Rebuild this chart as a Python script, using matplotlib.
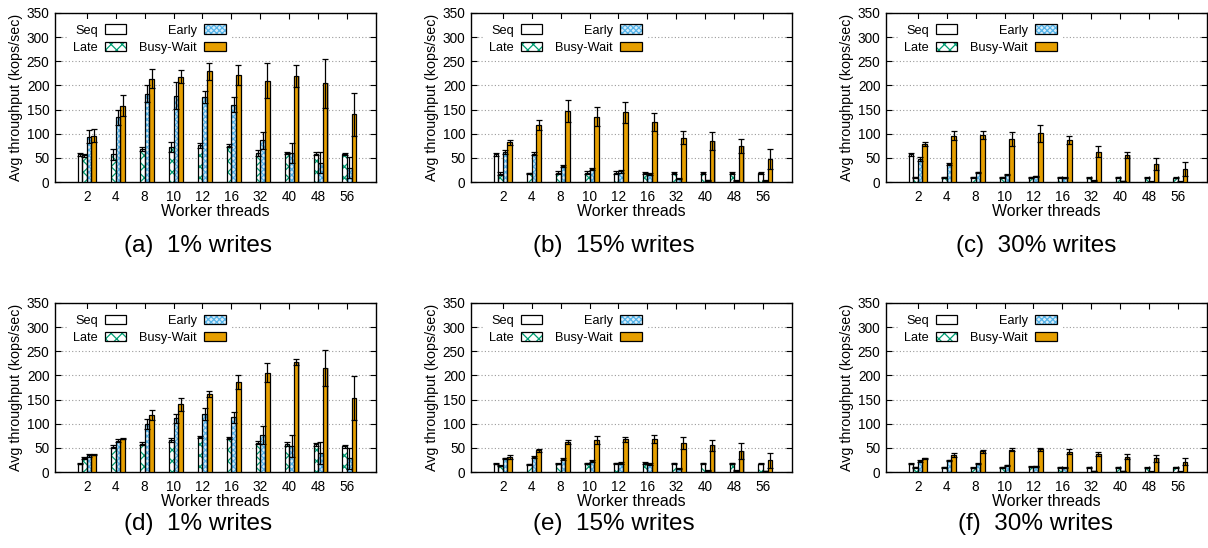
import numpy as np
import matplotlib
matplotlib.use("Agg")
import matplotlib.pyplot as plt
from matplotlib.patches import Patch
from matplotlib.legend_handler import HandlerTuple

plt.rcParams['font.family'] = ['Liberation Sans', 'DejaVu Sans']
plt.rcParams['hatch.linewidth'] = 0.9

threads = ["2", "4", "8", "10", "12", "16", "32", "40", "48", "56"]
series_names = ["Seq", "Late", "Early", "Busy-Wait"]
captions = ["(a)  1% writes", "(b)  15% writes", "(c)  30% writes",
            "(d)  1% writes", "(e)  15% writes", "(f)  30% writes"]
nan = np.nan

# ---- panel (a) ----
a_seq = [57, nan, nan, nan, nan, nan, nan, nan, nan, nan]
a_seq_err = [3, nan, nan, nan, nan, nan, nan, nan, nan, nan]
a_late = [55, 57, 69, 73, 76, 75, 60, 60, 59, 58]
a_late_err = [3, 12, 4, 10, 5, 3, 6, 3, 3, 3]
a_early = [94, 134, 183, 179, 176, 160, 86, 60, 40, 30]
a_early_err = [13, 16, 17, 28, 13, 16, 18, 21, 22, 22]
a_bw = [96, 158, 214, 218, 229, 222, 210, 220, 204, 140]
a_bw_err = [13, 22, 20, 14, 18, 21, 36, 23, 50, 44]

# ---- panel (b) ----
b_seq = [57, nan, nan, nan, nan, nan, nan, nan, nan, nan]
b_seq_err = [3, nan, nan, nan, nan, nan, nan, nan, nan, nan]
b_late = [17, 18, 19, 19, 19, 19, 18, 18, 18, 18]
b_late_err = [3, 1, 3, 3, 3, 2, 2, 2, 2, 2]
b_early = [62, 59, 34, 27, 22, 17, 7, 4, 3, 3]
b_early_err = [4, 4, 2, 3, 3, 2, 1, 1, 1, 1]
b_bw = [82, 118, 147, 135, 144, 124, 92, 85, 75, 48]
b_bw_err = [6, 10, 22, 20, 22, 18, 14, 19, 14, 21]

# ---- panel (c) ----
c_seq = [57, nan, nan, nan, nan, nan, nan, nan, nan, nan]
c_seq_err = [3, nan, nan, nan, nan, nan, nan, nan, nan, nan]
c_late = [10, 10, 10, 10, 10, 10, 9, 10, 9, 9]
c_late_err = [1, 1, 1, 1, 1, 1, 1, 1, 1, 1]
c_early = [48, 37, 20, 15, 12, 9, 3, 2, 1, 1]
c_early_err = [4, 2, 1, 1, 1, 1, 1, 0.5, 0.5, 0.5]
c_bw = [78, 96, 98, 89, 101, 87, 63, 56, 37, 27]
c_bw_err = [4, 10, 8, 14, 18, 8, 11, 6, 12, 14]

# ---- panel (d) ----
d_seq = [17, nan, nan, nan, nan, nan, nan, nan, nan, nan]
d_seq_err = [1, nan, nan, nan, nan, nan, nan, nan, nan, nan]
d_late = [29, 52, 59, 66, 72, 71, 61, 58, 57, 53]
d_late_err = [2, 3, 4, 4, 2, 2, 3, 4, 4, 3]
d_early = [35, 65, 99, 111, 120, 113, 77, 54, 39, 28]
d_early_err = [3, 3, 10, 9, 12, 12, 18, 23, 23, 22]
d_bw = [36, 69, 118, 140, 162, 186, 206, 228, 215, 153]
d_bw_err = [1, 1, 10, 13, 6, 15, 19, 6, 37, 45]

# ---- panel (e) ----
e_seq = [17, nan, nan, nan, nan, nan, nan, nan, nan, nan]
e_seq_err = [1, nan, nan, nan, nan, nan, nan, nan, nan, nan]
e_late = [13, 16, 17, 18, 18, 18, 18, 18, 18, 17]
e_late_err = [1, 1, 1, 1, 1, 2, 1, 1, 1, 1]
e_early = [28, 32, 27, 22, 19, 16, 7, 3, 3, 2]
e_early_err = [2, 2, 2, 2, 2, 2, 1, 0.5, 0.5, 0.5]
e_bw = [31, 45, 62, 66, 68, 68, 60, 55, 43, 24]
e_bw_err = [4, 3, 4, 8, 5, 8, 12, 12, 17, 16]

# ---- panel (f) ----
f_seq = [17, nan, nan, nan, nan, nan, nan, nan, nan, nan]
f_seq_err = [1, nan, nan, nan, nan, nan, nan, nan, nan, nan]
f_late = [10, 10, 9, 10, 11, 10, 10, 10, 9, 10]
f_late_err = [1, 1, 1, 1, 1, 1, 1, 1, 1, 1]
f_early = [22, 24, 17, 14, 12, 9, 2, 2, 1, 1]
f_early_err = [2, 1, 1, 1, 1, 1, 0.5, 0.5, 0.5, 0.5]
f_bw = [28, 36, 43, 46, 47, 42, 37, 32, 28, 21]
f_bw_err = [2, 4, 3, 3, 3, 5, 4, 5, 8, 7]

panels = [
    (a_seq, a_seq_err, a_late, a_late_err, a_early, a_early_err, a_bw, a_bw_err),
    (b_seq, b_seq_err, b_late, b_late_err, b_early, b_early_err, b_bw, b_bw_err),
    (c_seq, c_seq_err, c_late, c_late_err, c_early, c_early_err, c_bw, c_bw_err),
    (d_seq, d_seq_err, d_late, d_late_err, d_early, d_early_err, d_bw, d_bw_err),
    (e_seq, e_seq_err, e_late, e_late_err, e_early, e_early_err, e_bw, e_bw_err),
    (f_seq, f_seq_err, f_late, f_late_err, f_early, f_early_err, f_bw, f_bw_err),
]

# styles: (facecolor, hatch, hatchcolor)
styles = [
    ("white", None, "black"),
    ("white", "xxx", "#009E73"),
    ("#d6ecfa", "xxxxxx", "#56B4E9"),
    ("#E69F00", None, "black"),
]

W, H = 1208, 548
fig = plt.figure(figsize=(W / 100, H / 100), dpi=100)

lefts = [55, 471, 886]
tops = [13, 303]
aw, ah = 321, 169
cap_x = [198, 614, 1036]
cap_y = [246, 524]

bw = 0.16
offsets = [-1.5 * bw, -0.5 * bw, 0.5 * bw, 1.5 * bw]
x = np.arange(len(threads))

for i, pdata in enumerate(panels):
    r, c = divmod(i, 3)
    ax = fig.add_axes([lefts[c] / W, 1 - (tops[r] + ah) / H, aw / W, ah / H])
    for s in range(4):
        vals = np.array(pdata[2 * s], dtype=float)
        errs = np.array(pdata[2 * s + 1], dtype=float)
        m = np.isfinite(vals)
        xs = x[m] + offsets[s]
        fc, hatch, hc = styles[s]
        # shadow
        ax.bar(xs + 0.04, vals[m], width=bw, color="#b4b4b4", linewidth=0, zorder=2)
        ax.bar(xs, vals[m], width=bw, facecolor=fc, hatch=hatch, edgecolor=hc,
               linewidth=0.0, zorder=3)
        ax.bar(xs, vals[m], width=bw, fill=False, edgecolor="black",
               linewidth=0.9, zorder=4)
        ax.errorbar(xs, vals[m], yerr=errs[m], fmt="none", ecolor="black",
                    elinewidth=0.9, capsize=2.2, capthick=0.9, zorder=5)
    ax.set_xlim(-1.1, 10.0)
    ax.set_ylim(0, 350)
    ax.set_yticks(range(0, 351, 50))
    ax.set_xticks(x)
    ax.set_xticklabels(threads)
    ax.tick_params(axis="both", direction="in", top=True, right=True,
                   length=4, width=0.8, labelsize=9.8, colors="black")
    ax.tick_params(axis="x", pad=6)
    ax.tick_params(axis="y", pad=4)
    ax.yaxis.grid(True, linestyle=(0, (1, 2)), color="#9a9a9a", linewidth=0.8)
    ax.set_axisbelow(True)
    for sp in ax.spines.values():
        sp.set_linewidth(1.0)
    ax.set_xlabel("Worker threads", fontsize=11.4, labelpad=0)
    ax.set_ylabel("Avg throughput (kops/sec)", fontsize=10.3, labelpad=3)

    handles = []
    for s in range(4):
        fc, hatch, hc = styles[s]
        fill_p = Patch(facecolor=fc, hatch=hatch, edgecolor=hc, linewidth=0)
        edge_p = Patch(fill=False, edgecolor="black", linewidth=0.9)
        handles.append((fill_p, edge_p))
    leg = ax.legend(handles, series_names, ncol=2, loc="upper left",
                    markerfirst=False, fontsize=9.2, frameon=True,
                    handlelength=1.65, handleheight=0.8, labelspacing=0.38,
                    columnspacing=1.0, handletextpad=0.6, borderpad=0.4,
                    bbox_to_anchor=(0.02, 1.0),
                    handler_map={tuple: HandlerTuple(ndivide=1, pad=0)})
    leg.get_frame().set_edgecolor("none")
    leg.get_frame().set_facecolor("white")
    leg.get_frame().set_alpha(1.0)
    leg.set_zorder(6)

    fig.text(cap_x[c] / W, 1 - cap_y[r] / H, captions[i], ha="center",
             va="center", fontsize=17.5)

fig.savefig("out.png", dpi=100)
